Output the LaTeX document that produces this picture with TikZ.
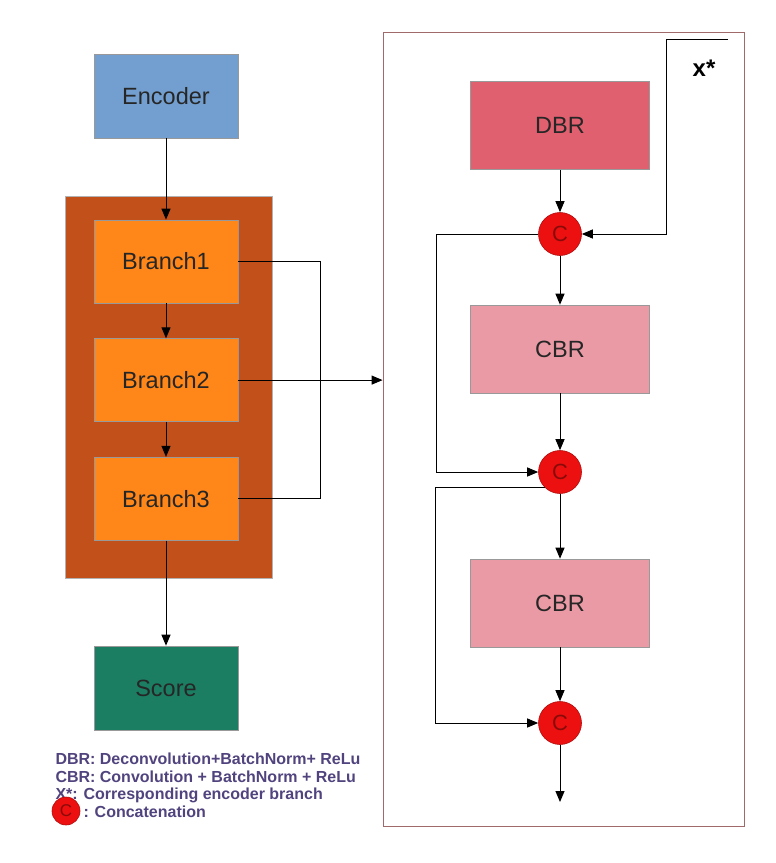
\documentclass[tikz,border=0pt]{standalone}
\usepackage{fontspec}
\setmainfont{Liberation Sans}
\usetikzlibrary{positioning,arrows.meta}
\definecolor{encblue}{HTML}{729FCF}
\definecolor{stackbr}{HTML}{C2501A}
\definecolor{branchor}{HTML}{FF8618}
\definecolor{scoregr}{HTML}{1B7E62}
\definecolor{dbrred}{HTML}{E0606F}
\definecolor{cbrpink}{HTML}{EA9AA5}
\definecolor{framered}{HTML}{A06A6A}
\definecolor{catred}{HTML}{EC1010}
\definecolor{catdark}{HTML}{8A0A0A}
\definecolor{legtext}{HTML}{51447E}

\begin{document}
\begin{tikzpicture}[x=1pt,y=1pt,>={Triangle[length=11pt,width=9pt]},line width=1pt]
\tikzset{box/.style={draw=black!40,line width=0.6pt,minimum width=144pt,minimum height=84pt,inner sep=0pt,text=black!85,font=\fontsize{23.5}{28}\selectfont},
   branch/.style={box,fill=branchor,minimum height=83pt},
   blk/.style={box,minimum width=179pt,minimum height=88pt},
   cat/.style={circle,draw=catred!75!black,line width=0.6pt,fill=catred,minimum size=43pt,inner sep=0pt,text=catdark,font=\fontsize{22}{24}\selectfont},
   leg/.style={anchor=base west,inner sep=0pt,text=legtext,font=\bfseries\fontsize{16}{18}\selectfont}};
   \useasboundingbox (0,0) rectangle (776,-863);

   % left column
   \node[draw=black!30,line width=0.6pt,fill=stackbr,minimum width=207pt,minimum height=382pt,inner sep=0pt] (stack) at (168.5,-387) {};
   \node[box,fill=encblue] (enc) at (166,-96) {Encoder};
   \node[branch] (b1) at (166,-261.5) {Branch1};
   \node[branch,below=35pt of b1] (b2) {Branch2};
   \node[branch,below=35pt of b2] (b3) {Branch3};
   \node[box,fill=scoregr] (score) at (166,-688) {Score};

   \draw[->] (enc) -- (b1);
   \draw[->] (b1) -- (b2);
   \draw[->] (b2) -- (b3);
   \draw[->] (b3) -- (score);
   \draw (b1.east) -- ++(82,0) |- (b3.east);

   % decoder block
   \node[draw=framered,line width=0.8pt,minimum width=361pt,minimum height=794pt,inner sep=0pt] (frame) at (563.5,-429) {};
   \draw[->] (b2.east) -- (b2.east -| frame.west);

   \node[blk,fill=dbrred] (dbr) at (560,-125.5) {DBR};
   \node[cat] (c1) at (560,-234) {C};
   \node[blk,fill=cbrpink] (cbr1) at (560,-349) {CBR};
   \node[cat] (c2) at (560,-472) {C};
   \node[blk,fill=cbrpink] (cbr2) at (560,-603) {CBR};
   \node[cat] (c3) at (560,-723) {C};
   \coordinate (out) at (560,-802);

   \coordinate (xin) at (728,-39);
   \node[font=\bfseries\fontsize{24}{26}\selectfont] (xlab) at (704,-68) {x*};
   \draw[->] (xin) -- ++(-62,0) |- (c1);

   \draw[->] (dbr) -- (c1);
   \draw[->] (c1) -- (cbr1);
   \draw[->] (cbr1) -- (c2);
   \draw[->] (c2) -- (cbr2);
   \draw[->] (cbr2) -- (c3);
   \draw[->] (c3) -- (out);
   \draw[->] (c1.west) -- ++(-102,0) |- (c2.west);
   \draw[->] (c2.south west) -- ++(-109,0) |- (c3.west);

   % legend
   \node[leg] (l1) at (55,-764) {DBR: Deconvolution+BatchNorm+ ReLu};
   \node[leg] (l2) at (55,-782) {CBR: Convolution + BatchNorm + ReLu};
   \node[leg] (l3) at (55,-799) {X*: Corresponding encoder branch};
   \node[cat,minimum size=28pt,font=\fontsize{17}{18}\selectfont] (lc) at (66,-811) {C};
   \node[leg] (l4) at (83,-817) {: Concatenation};
\end{tikzpicture}
\end{document}
